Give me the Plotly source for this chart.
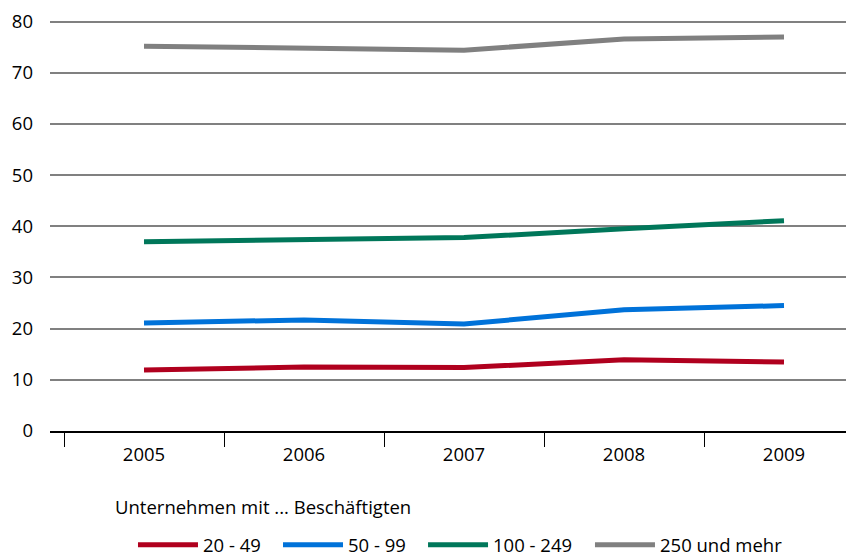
import plotly.graph_objects as go

years = ["2005", "2006", "2007", "2008", "2009"]
s_20_49 = [11.9, 12.5, 12.4, 13.9, 13.5]
s_50_99 = [21.1, 21.7, 20.9, 23.7, 24.5]
s_100_249 = [37.0, 37.5, 37.8, 39.5, 41.1]
s_250 = [75.2, 74.7, 74.4, 76.6, 77.0]

names = ["20 - 49", "50 - 99", "100 - 249", "250 und mehr"]
colors = ["#B0001E", "#0072D9", "#00775A", "#808080"]
series = [s_20_49, s_50_99, s_100_249, s_250]
legend_ids = ["legend", "legend2", "legend3", "legend4"]
legend_x = [0.1022, 0.2808, 0.4594, 0.6650]

FONT = "Open Sans, Liberation Sans, sans-serif"
FS = 18.5

fig = go.Figure()
for name, col, vals, lg in zip(names, colors, series, legend_ids):
    fig.add_trace(go.Scatter(x=years, y=vals, name=name, mode="lines",
                             line=dict(color=col, width=5), legend=lg))

legend_common = dict(orientation="h", xanchor="left", y=-0.277, yanchor="middle",
                     font=dict(family=FONT, size=FS), itemwidth=60,
                     bgcolor="rgba(0,0,0,0)")
legend_layout = {lg: dict(x=lx, **legend_common) for lg, lx in zip(legend_ids, legend_x)}

fig.update_layout(
    width=854, height=557,
    margin=dict(l=42, r=0, t=11, b=134, autoexpand=False),
    paper_bgcolor="white", plot_bgcolor="white",
    font=dict(family=FONT, size=FS, color="#000000"),
    showlegend=True,
    annotations=[dict(text="Unternehmen mit ... Beschäftigten", xref="paper", yref="paper",
                      x=0.0776, y=-0.184, xanchor="left", yanchor="middle", showarrow=False,
                      font=dict(family=FONT, size=FS))],
    **legend_layout,
)
fig.update_xaxes(type="category", range=[-0.5875, 4.4875], tickson="boundaries",
                 ticks="outside", ticklen=14, tickcolor="#000000", tickwidth=1,
                 showline=True, linecolor="#000000", linewidth=1.5, showgrid=False,
                 ticklabelstandoff=6)
fig.update_yaxes(range=[0, 80.5], tickvals=[0, 10, 20, 30, 40, 50, 60, 70, 80],
                 showgrid=True, gridcolor="#808080", gridwidth=1.5, zeroline=False,
                 showline=False, ticks="", ticklabelstandoff=16)

fig.write_html("out.html")
